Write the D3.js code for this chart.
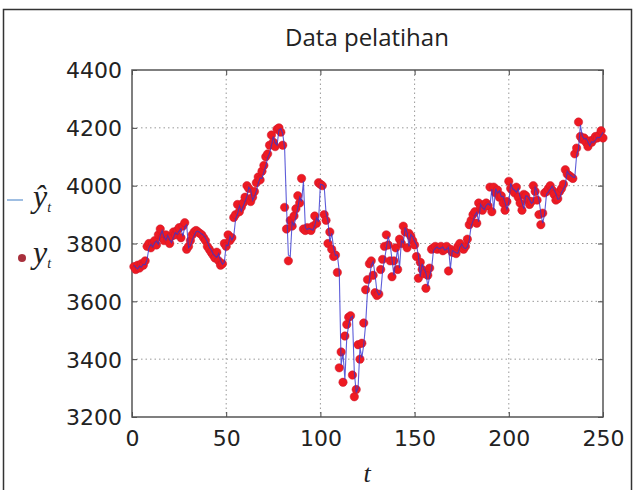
<!DOCTYPE html>
<html>
<head>
<meta charset="utf-8">
<script src="https://cdn.jsdelivr.net/npm/d3@7"></script>
<style>
  body { margin: 0; background: #fff; }
  svg { display: block; }
</style>
</head>
<body>
<script>
// t = 1 .. 250
var actual = [
  3720, 3710, 3725, 3715, 3730, 3725, 3740, 3790, 3800, 3785,
  3800, 3810, 3795, 3830, 3850, 3820, 3810, 3830, 3815, 3800,
  3825, 3840, 3830, 3845, 3855, 3820, 3860, 3872, 3780, 3790,
  3810, 3830, 3840, 3845, 3840, 3835, 3830, 3820, 3810, 3790,
  3780, 3770, 3760, 3750, 3770, 3740, 3725, 3730, 3800, 3790,
  3830, 3810, 3820, 3890, 3900, 3935, 3910, 3925, 3940, 3960,
  4000, 3990, 3945, 3960, 3980, 4010, 4030, 4020, 4050, 4070,
  4100, 4110, 4140, 4175, 4150, 4135, 4195, 4200, 4185, 4140,
  3925, 3850, 3740, 3880, 3860, 3895, 3920, 3965, 3940, 4025,
  3850, 3845, 3855, 3850, 3845, 3860, 3895, 3870, 4010, 4005,
  4000, 3900, 3880, 3800, 3840, 3780, 3755, 3760, 3700, 3370,
  3425, 3320, 3480, 3520, 3545, 3550, 3345, 3270, 3295, 3450,
  3400, 3455, 3525, 3640, 3675, 3730, 3740, 3690, 3630, 3620,
  3625, 3710, 3745, 3790, 3830, 3795, 3740, 3685, 3740, 3785,
  3710, 3815, 3800, 3860, 3840, 3785, 3835, 3825, 3810, 3795,
  3755, 3680, 3735, 3710, 3695, 3645, 3690, 3715, 3780, 3785,
  3790, 3780, 3785, 3790, 3775, 3780, 3790, 3705, 3780, 3770,
  3770, 3765, 3790, 3800, 3785, 3780, 3790, 3815, 3865, 3880,
  3900, 3910, 3870, 3940, 3925, 3915, 3935, 3940, 3930, 3995,
  3910, 3995, 3975, 3985, 3960, 3965, 3940, 3915, 3945, 4015,
  3990, 3985, 3975, 3995, 3960, 3940, 3915, 3970, 3965, 3950,
  3935, 3945, 4000, 3980, 3950, 3900, 3865, 3905, 3975, 3980,
  3990, 4000, 3985, 3970, 3950, 3955, 3980, 3990, 4005, 4055,
  4040, 4035, 4030, 4025, 4110, 4130, 4220, 4170, 4160, 4165,
  4150, 4135, 4155, 4150, 4160, 4170, 4165, 4175, 4190, 4165
];

var predicted = [
  3725, 3718, 3712, 3722, 3718, 3728, 3727, 3745, 3785, 3797,
  3788, 3802, 3808, 3798, 3828, 3845, 3822, 3812, 3828, 3813,
  3803, 3822, 3838, 3832, 3843, 3852, 3825, 3858, 3865, 3785,
  3792, 3812, 3828, 3840, 3843, 3838, 3833, 3828, 3818, 3805,
  3788, 3778, 3765, 3757, 3752, 3765, 3742, 3728, 3735, 3795,
  3792, 3825, 3812, 3825, 3885, 3902, 3930, 3912, 3928, 3945,
  3963, 3995, 3985, 3950, 3962, 3982, 4008, 4027, 4025, 4048,
  4068, 4097, 4112, 4138, 4170, 4148, 4140, 4192, 4197, 4180,
  4130, 3930, 3760, 3755, 3875, 3862, 3892, 3922, 3960, 3945,
  4015, 3855, 3848, 3852, 3850, 3846, 3862, 3890, 3875, 4005,
  4003, 3998, 3905, 3878, 3805, 3835, 3785, 3758, 3760, 3705,
  3380, 3420, 3330, 3475, 3518, 3543, 3548, 3355, 3285, 3300,
  3440, 3405, 3450, 3520, 3635, 3672, 3725, 3738, 3692, 3635,
  3622, 3628, 3705, 3742, 3785, 3825, 3798, 3745, 3690, 3738,
  3780, 3715, 3810, 3802, 3855, 3838, 3790, 3832, 3822, 3808,
  3795, 3758, 3685, 3730, 3712, 3698, 3652, 3688, 3712, 3775,
  3783, 3788, 3782, 3784, 3788, 3777, 3780, 3787, 3712, 3776,
  3772, 3768, 3766, 3787, 3798, 3786, 3782, 3788, 3812, 3860,
  3878, 3898, 3908, 3875, 3935, 3925, 3917, 3932, 3938, 3932,
  3988, 3915, 3990, 3975, 3982, 3962, 3963, 3942, 3918, 3942,
  4008, 3990, 3985, 3977, 3990, 3962, 3942, 3920, 3965, 3963,
  3952, 3938, 3945, 3995, 3980, 3952, 3905, 3870, 3902, 3970,
  3978, 3988, 3998, 3985, 3972, 3953, 3955, 3977, 3988, 4002,
  4050, 4040, 4035, 4030, 4028, 4105, 4128, 4210, 4172, 4162,
  4163, 4152, 4138, 4152, 4150, 4158, 4168, 4165, 4172, 4185
];

var xTicks = [0, 50, 100, 150, 200, 250];
var yTicks = [3200, 3400, 3600, 3800, 4000, 4200, 4400];
var title = 'Data pelatihan';

var width = 633, height = 490;
var pLeft = 132, pRight = 603, pTop = 70, pBottom = 417;

var svg = d3.select('body')
	.append('svg')
	.attr('width', width)
	.attr('height', height);

// outer frame
svg.append('rect')
	.attr('x', 3.5)
	.attr('y', 9.5)
	.attr('width', 628)
	.attr('height', 490)
	.attr('fill', 'none')
	.attr('stroke', '#333')
	.attr('stroke-width', 1.5);

var x = d3.scaleLinear().domain([0, 250]).range([pLeft, pRight]);
var y = d3.scaleLinear().domain([3200, 4400]).range([pBottom, pTop]);

// grid
svg.append('g')
	.selectAll('line')
	.data(xTicks.slice(1, -1))
	.enter()
	.append('line')
	.attr('x1', function(d) { return x(d); })
	.attr('x2', function(d) { return x(d); })
	.attr('y1', pTop)
	.attr('y2', pBottom)
	.attr('stroke', '#999')
	.attr('stroke-dasharray', '1.5,3');

svg.append('g')
	.selectAll('line')
	.data(yTicks.slice(1, -1))
	.enter()
	.append('line')
	.attr('y1', function(d) { return y(d); })
	.attr('y2', function(d) { return y(d); })
	.attr('x1', pLeft)
	.attr('x2', pRight)
	.attr('stroke', '#999')
	.attr('stroke-dasharray', '1.5,3');

// axes with inward ticks
var tickFont = '"DejaVu Sans", Verdana, sans-serif';

var xAxis = svg.append('g')
	.attr('transform', 'translate(0,' + pBottom + ')')
	.call(d3.axisBottom(x).tickValues(xTicks).tickFormat(d3.format('d')).tickSizeInner(-5).tickSizeOuter(0).tickPadding(13));
var yAxis = svg.append('g')
	.attr('transform', 'translate(' + pLeft + ',0)')
	.call(d3.axisLeft(y).tickValues(yTicks).tickFormat(d3.format('d')).tickSizeInner(-5).tickSizeOuter(0).tickPadding(10));
var xTop = svg.append('g')
	.attr('transform', 'translate(0,' + pTop + ')')
	.call(d3.axisTop(x).tickValues(xTicks).tickSizeInner(-5).tickSizeOuter(0).tickFormat(''));
var yRight = svg.append('g')
	.attr('transform', 'translate(' + pRight + ',0)')
	.call(d3.axisRight(y).tickValues(yTicks).tickSizeInner(-5).tickSizeOuter(0).tickFormat(''));

[xAxis, yAxis, xTop, yRight].forEach(function(g) {
	g.select('.domain').remove();
	g.selectAll('line').attr('stroke', '#444');
	g.selectAll('text')
		.attr('font-family', tickFont)
		.attr('font-size', 22)
		.attr('fill', '#222');
});
xAxis.selectAll('text').attr('dy', '0.71em');
yAxis.selectAll('text').attr('dy', '0.36em');

svg.append('rect')
	.attr('x', pLeft)
	.attr('y', pTop)
	.attr('width', pRight - pLeft)
	.attr('height', pBottom - pTop)
	.attr('fill', 'none')
	.attr('stroke', '#555')
	.attr('stroke-width', 1.5);

// data
svg.append('g')
	.selectAll('circle')
	.data(actual)
	.enter()
	.append('circle')
	.attr('cx', function(d, i) { return x(i + 1); })
	.attr('cy', function(d) { return y(d); })
	.attr('r', 4.2)
	.attr('fill', '#ee1a22')
	.attr('stroke', '#c81830')
	.attr('stroke-width', 0.5);

var line = d3.line()
	.x(function(d, i) { return x(i + 1); })
	.y(function(d) { return y(d); });

svg.append('path')
	.datum(predicted)
	.attr('d', line)
	.attr('fill', 'none')
	.attr('stroke', '#3434d0')
	.attr('stroke-opacity', 0.8)
	.attr('stroke-width', 1.1);

// title and x label
svg.append('text')
	.attr('x', 367)
	.attr('y', 46)
	.attr('text-anchor', 'middle')
	.attr('font-family', '"Open Sans", sans-serif')
	.attr('font-size', 24)
	.attr('fill', '#222')
	.text(title);

svg.append('text')
	.attr('x', 367)
	.attr('y', 482)
	.attr('text-anchor', 'middle')
	.attr('font-family', '"Liberation Serif", serif')
	.attr('font-style', 'italic')
	.attr('font-size', 26)
	.attr('fill', '#222')
	.text('t');

// legend
svg.append('line')
	.attr('x1', 7)
	.attr('x2', 23)
	.attr('y1', 200)
	.attr('y2', 200)
	.attr('stroke', '#7fa8d8')
	.attr('stroke-width', 1.5);

var yhat = svg.append('text')
	.attr('x', 33)
	.attr('y', 207)
	.attr('font-family', '"Liberation Serif", serif')
	.attr('font-style', 'italic')
	.attr('font-size', 32)
	.attr('fill', '#222');
yhat.append('tspan').text('\u0177');
yhat.append('tspan').attr('font-size', 14).attr('dy', 5).text('t');

svg.append('circle')
	.attr('cx', 22)
	.attr('cy', 258)
	.attr('r', 4)
	.attr('fill', '#a8303c');

var ylab = svg.append('text')
	.attr('x', 33)
	.attr('y', 263)
	.attr('font-family', '"Liberation Serif", serif')
	.attr('font-style', 'italic')
	.attr('font-size', 32)
	.attr('fill', '#222');
ylab.append('tspan').text('y');
ylab.append('tspan').attr('font-size', 14).attr('dy', 5).text('t');
</script>
</body>
</html>
